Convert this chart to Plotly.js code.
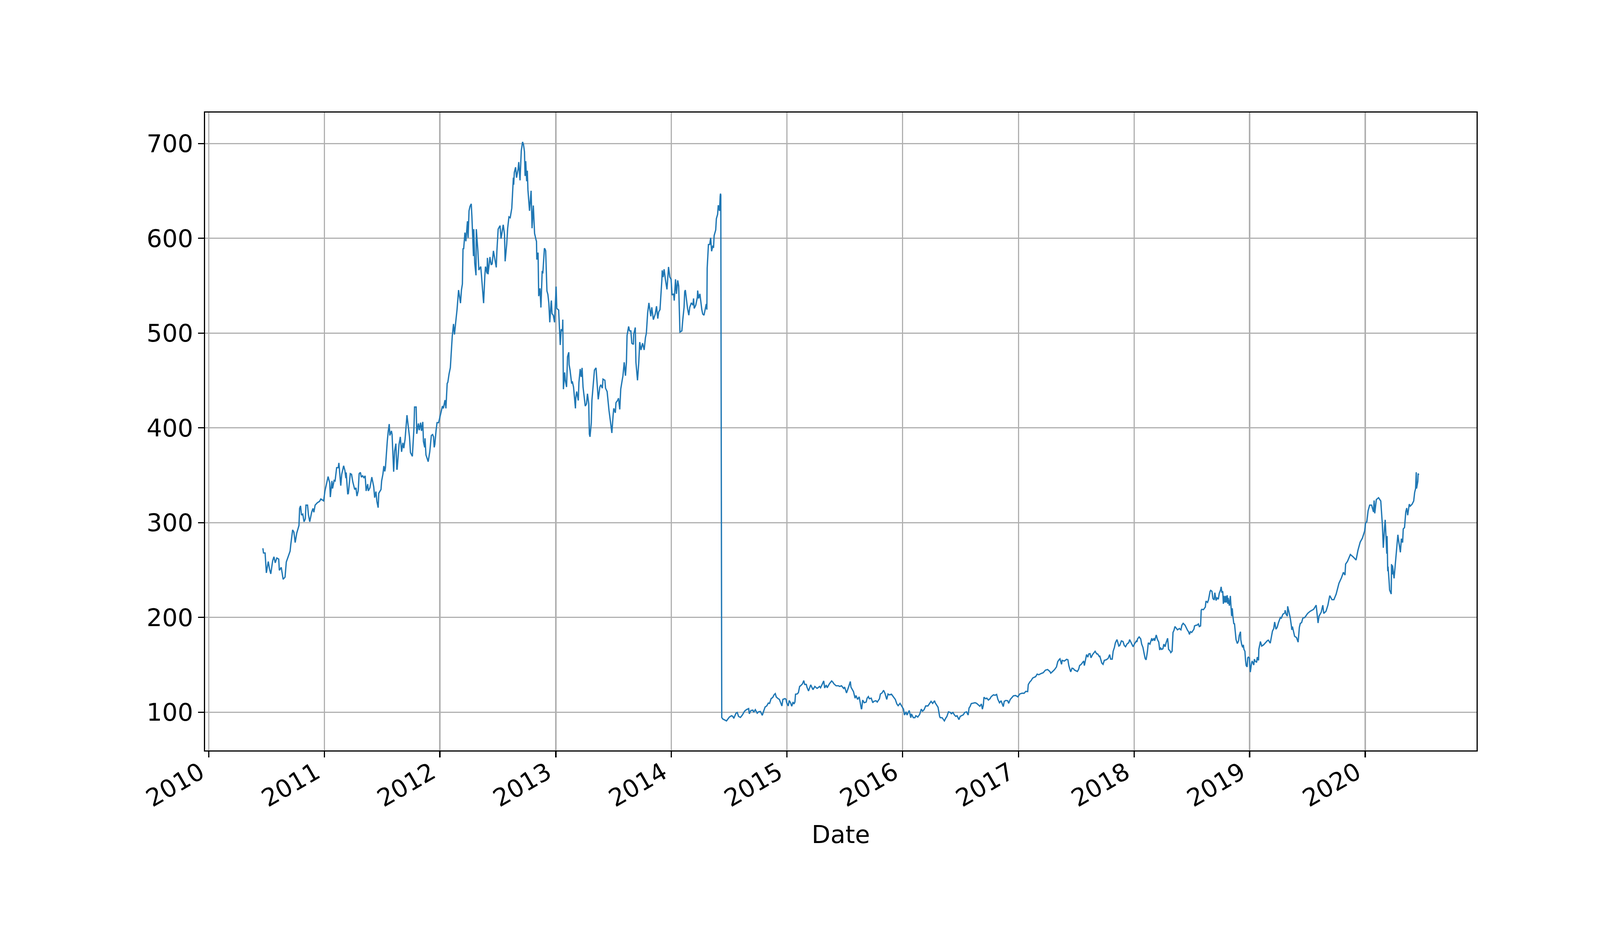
<!DOCTYPE html>
<html>
<head>
<meta charset="utf-8">
<script src="https://cdn.plot.ly/plotly-3.0.1.min.js"></script>
<style>
  html, body { margin: 0; padding: 0; background: #ffffff; }
  #chart { width: 4200px; height: 2400px; }
</style>
</head>
<body>
<div id="chart"></div>
<script>
const datesA = ["2010-06-21","2010-06-23","2010-06-28","2010-07-02","2010-07-08","2010-07-12","2010-07-16","2010-07-22","2010-07-26","2010-07-30","2010-08-04","2010-08-10","2010-08-12","2010-08-18","2010-08-24","2010-08-30","2010-09-03","2010-09-08","2010-09-15","2010-09-17","2010-09-23","2010-09-27","2010-10-01","2010-10-06","2010-10-13","2010-10-15","2010-10-18","2010-10-21","2010-10-25","2010-10-29","2010-11-02","2010-11-04","2010-11-09","2010-11-12","2010-11-16","2010-11-22","2010-11-26","2010-11-29","2010-12-03","2010-12-10","2010-12-17","2010-12-21","2010-12-30","2011-01-03","2011-01-07","2011-01-13","2011-01-18","2011-01-20","2011-01-25","2011-01-27","2011-02-01","2011-02-04","2011-02-09","2011-02-14","2011-02-16","2011-02-22","2011-02-25","2011-03-03","2011-03-07","2011-03-10","2011-03-11","2011-03-16","2011-03-18","2011-03-24","2011-03-28","2011-04-01","2011-04-07","2011-04-11","2011-04-14","2011-04-18","2011-04-21","2011-04-25","2011-04-28","2011-05-02","2011-05-06","2011-05-10","2011-05-13","2011-05-18","2011-05-20","2011-05-25","2011-05-31","2011-06-06","2011-06-09","2011-06-13","2011-06-16","2011-06-20","2011-06-22","2011-06-29","2011-07-01","2011-07-05","2011-07-08","2011-07-11","2011-07-13","2011-07-15","2011-07-19","2011-07-22","2011-07-25","2011-07-27","2011-08-01","2011-08-03","2011-08-08","2011-08-11","2011-08-15","2011-08-18","2011-08-19","2011-08-25","2011-08-29","2011-09-02","2011-09-06","2011-09-09","2011-09-13","2011-09-19","2011-09-23","2011-09-27","2011-09-30","2011-10-06","2011-10-11","2011-10-13","2011-10-18","2011-10-20","2011-10-25","2011-10-28","2011-11-01","2011-11-04","2011-11-08","2011-11-10","2011-11-14","2011-11-15","2011-11-18","2011-11-25","2011-11-30","2011-12-05","2011-12-09","2011-12-12","2011-12-14","2011-12-16","2011-12-20","2011-12-23","2011-12-28","2012-01-04","2012-01-09","2012-01-12","2012-01-17","2012-01-20","2012-01-24","2012-01-26","2012-01-30"];
const closeA = [273,268,268,247,259,251,246,260,264,257.6,262.7,261.6,249.7,252.8,240.2,242.6,258.5,263,270,276.6,292.4,290,279,289,297,315,317.7,308,309,301,304,318.5,318.5,308,301,311,315,311,318.5,321,322.5,325,323,333.5,339,348.6,342,327,344,336,344.6,344,358,358,363,339,351,360,355,347,353,330,331,351.7,351,343,335,336.7,328,333.5,351.7,353,348,349.4,347.5,349.4,333.5,340.7,333.5,336.7,348,338,326.4,332.8,322.5,315.8,331,335,344,351,359.7,354,358,368.4,386.6,396.8,404,392,396.8,393,353.8,375.5,383.4,356.5,356.5,382.6,390.5,374.7,384.2,378.6,388,413.4,402.4,390.5,374,370,399,422,422,393.7,404.7,397.6,405.5,396.8,406.3,385.8,379.4,389,371.5,364.4,374.7,392,393,390.5,379.4,382.6,397.6,405.5,405.5,415,423,420.6,429.3,420.6,447,448,457];

const datesB = ["2012-02-03","2012-02-07","2012-02-09","2012-02-13","2012-02-16","2012-02-21","2012-02-24","2012-02-29","2012-03-06","2012-03-09","2012-03-12","2012-03-14","2012-03-16","2012-03-20","2012-03-23","2012-03-28","2012-03-30","2012-04-02","2012-04-05","2012-04-09","2012-04-11","2012-04-16","2012-04-17","2012-04-20","2012-04-24","2012-04-25","2012-04-30","2012-05-03","2012-05-09","2012-05-11","2012-05-18","2012-05-22","2012-05-24","2012-05-29","2012-05-30","2012-06-01","2012-06-07","2012-06-11","2012-06-14","2012-06-18","2012-06-22","2012-06-27","2012-06-29","2012-07-03","2012-07-09","2012-07-12","2012-07-19","2012-07-23","2012-07-25","2012-07-30","2012-08-02","2012-08-06","2012-08-10","2012-08-15","2012-08-20","2012-08-21","2012-08-23","2012-08-27","2012-08-30","2012-09-04","2012-09-06","2012-09-10","2012-09-14","2012-09-18","2012-09-21","2012-09-24","2012-09-26","2012-09-28","2012-10-01","2012-10-03","2012-10-05","2012-10-09","2012-10-10","2012-10-15","2012-10-18","2012-10-22","2012-10-24","2012-10-26","2012-10-31","2012-11-01","2012-11-02","2012-11-06","2012-11-08","2012-11-12","2012-11-15","2012-11-19","2012-11-21","2012-11-26","2012-11-28","2012-11-30","2012-12-04","2012-12-07","2012-12-10","2012-12-13","2012-12-17","2012-12-18","2012-12-20","2012-12-24","2012-12-28","2013-01-02","2013-01-04","2013-01-10","2013-01-11","2013-01-15","2013-01-18","2013-01-22","2013-01-23"];
const closeB = [463.6,485.7,496.7,509.6,498.5,515,524.3,545.4,531.6,545.4,551.8,589.5,588.6,606,596.9,618,600.6,629,633.6,636.4,623.5,581.3,609.7,573.9,561,609.7,586.8,566.5,570.2,562,531.6,561,570.2,562.9,579.4,562,580.3,572,573,586.8,578.5,569.3,586.8,609.7,613.4,599.6,614.3,604.2,575.7,594,610.7,622.6,621.7,631.8,664,656.6,669.5,675,664,673.2,680.5,661.2,692.5,701.7,698.9,691.5,665.8,681.4,660.3,671.3,651.1,636.4,629,650.2,610.7,634.6,615.3,605.1,597.8,596.9,577.6,584.9,539,547.2,527,565.6,562.9,589.5,588.6,586.8,544.5,540.8,531.6,511.4,531.6,534.4,520.6,518.8,511.4,549.1,526.1,524.3,516.9,487.5,504,502.2,514.2];

const datesC = ["2013-01-25","2013-01-29","2013-01-31","2013-02-04","2013-02-07","2013-02-11","2013-02-12","2013-02-15","2013-02-20","2013-02-22","2013-02-26","2013-03-04","2013-03-05","2013-03-08","2013-03-13","2013-03-15","2013-03-19","2013-03-22","2013-03-25","2013-03-28","2013-04-01","2013-04-04","2013-04-08","2013-04-11","2013-04-15","2013-04-17","2013-04-19","2013-04-23","2013-04-25","2013-04-29","2013-05-03","2013-05-08","2013-05-10","2013-05-15","2013-05-20","2013-05-23","2013-05-28","2013-05-30","2013-06-05","2013-06-07","2013-06-12","2013-06-14","2013-06-18","2013-06-24","2013-06-27","2013-07-01","2013-07-03","2013-07-08","2013-07-10","2013-07-15","2013-07-18","2013-07-22","2013-07-25","2013-07-29","2013-08-01","2013-08-05","2013-08-07","2013-08-09","2013-08-12","2013-08-14","2013-08-19","2013-08-22","2013-08-26","2013-08-29","2013-09-03","2013-09-04","2013-09-09","2013-09-11","2013-09-16","2013-09-20","2013-09-23","2013-09-27","2013-10-02","2013-10-07","2013-10-11","2013-10-14","2013-10-18","2013-10-22","2013-10-28","2013-10-31","2013-11-05","2013-11-11","2013-11-15","2013-11-19","2013-11-22","2013-11-26","2013-12-02","2013-12-03","2013-12-06","2013-12-09","2013-12-13","2013-12-18","2013-12-23","2013-12-27","2013-12-31","2014-01-03","2014-01-08","2014-01-10","2014-01-14","2014-01-17","2014-01-21","2014-01-24","2014-01-28","2014-02-03","2014-02-06","2014-02-10","2014-02-12","2014-02-14","2014-02-21","2014-02-25","2014-02-28","2014-03-05","2014-03-10","2014-03-12","2014-03-14","2014-03-19","2014-03-24","2014-03-25","2014-03-28","2014-04-01","2014-04-07","2014-04-10","2014-04-14","2014-04-21","2014-04-23","2014-04-24","2014-04-28","2014-05-02","2014-05-05","2014-05-08","2014-05-12","2014-05-14","2014-05-16","2014-05-21","2014-05-23","2014-05-27","2014-05-29","2014-06-02","2014-06-04","2014-06-05","2014-06-06"];
const closeC = [440.8,458.5,450.2,443.1,475.1,479.8,466.8,460.9,446.7,449.1,443.1,420.6,431.3,438.4,428.9,447.9,462.1,453.8,463.3,443.1,430.1,423,425.4,436,425.4,393.4,390.6,405.3,428.9,443.1,460.9,463.3,455,430.1,443.1,445.5,441.9,451.4,450.2,441.9,438.4,431.3,418.3,402.9,394.6,413.5,420.6,415.9,426.6,428.9,431.3,419.5,440.8,449.1,455,469.2,463.3,455,469.2,497.6,507,502.3,502.3,489.3,488.1,498.8,505.9,469.2,450.2,469.2,490.5,482.2,489.3,482.2,495.2,500,521.3,531.9,517.7,527.2,514.2,520.1,528.4,515.3,522.4,524.8,556.8,566.2,559.1,567.4,556.8,546.1,569.8,559.1,556.8,540.2,541.4,534.3,556.8,541.4,555.6,549.7,501.1,502.3,514.2,527.2,543.7,545.4,526,518.9,527.2,531.9,529.5,536.6,526,529.5,537.8,544.9,536.6,541.4,524.8,520.1,518.9,530.7,524.8,568.6,593.5,593.5,600.6,586.4,592.3,589.9,602.9,608.9,620.7,625.4,634.9,629,644.4,647.2,645.6];

const datesD = ["2014-06-09","2014-06-12","2014-06-16","2014-06-19","2014-06-24","2014-06-27","2014-07-03","2014-07-10","2014-07-14","2014-07-17","2014-07-24","2014-07-28","2014-08-01","2014-08-07","2014-08-13","2014-08-20","2014-08-26","2014-09-02","2014-09-04","2014-09-09","2014-09-15","2014-09-18","2014-09-23","2014-09-29","2014-10-03","2014-10-09","2014-10-15","2014-10-20","2014-10-24","2014-10-29","2014-11-03","2014-11-07","2014-11-12","2014-11-17","2014-11-21","2014-11-25","2014-11-28","2014-12-03","2014-12-08","2014-12-12","2014-12-16","2014-12-19","2014-12-26","2014-12-29","2014-12-31","2015-01-05","2015-01-08","2015-01-12","2015-01-16","2015-01-20","2015-01-23","2015-01-26","2015-01-28","2015-02-02","2015-02-06","2015-02-10","2015-02-13","2015-02-19","2015-02-23","2015-02-26","2015-03-03","2015-03-05","2015-03-10","2015-03-17","2015-03-20","2015-03-24","2015-03-30","2015-04-06","2015-04-14","2015-04-17","2015-04-21","2015-04-27","2015-04-30","2015-05-05","2015-05-08","2015-05-15","2015-05-22","2015-05-26","2015-05-29","2015-06-05","2015-06-12","2015-06-17","2015-06-22","2015-06-29","2015-07-02","2015-07-08","2015-07-13","2015-07-20","2015-07-22","2015-07-30","2015-08-04","2015-08-07","2015-08-12","2015-08-17","2015-08-24","2015-08-25","2015-08-28","2015-09-02","2015-09-08","2015-09-11","2015-09-15","2015-09-18","2015-09-24","2015-09-29","2015-10-02","2015-10-09","2015-10-13","2015-10-20","2015-10-23","2015-10-28","2015-11-02","2015-11-06","2015-11-12","2015-11-16","2015-11-20","2015-11-27","2015-12-03","2015-12-09","2015-12-14","2015-12-18","2015-12-24","2015-12-30","2016-01-04","2016-01-07","2016-01-12","2016-01-15","2016-01-22","2016-01-27","2016-01-29","2016-02-04","2016-02-09","2016-02-12","2016-02-18","2016-02-24","2016-02-29","2016-03-04","2016-03-09","2016-03-14","2016-03-21","2016-03-28","2016-03-31","2016-04-05","2016-04-11","2016-04-13","2016-04-18","2016-04-22","2016-04-27","2016-04-29","2016-05-05","2016-05-09","2016-05-12","2016-05-16","2016-05-20","2016-05-25","2016-05-31","2016-06-03","2016-06-08","2016-06-13","2016-06-17","2016-06-21","2016-06-27","2016-07-01","2016-07-06","2016-07-11","2016-07-15","2016-07-21","2016-07-26","2016-07-29","2016-08-01","2016-08-05","2016-08-12","2016-08-17","2016-08-22","2016-08-26","2016-09-01","2016-09-06","2016-09-09","2016-09-12","2016-09-14","2016-09-19","2016-09-23","2016-09-28","2016-10-03","2016-10-07","2016-10-14","2016-10-19","2016-10-24","2016-10-28","2016-11-02","2016-11-07","2016-11-14","2016-11-17","2016-11-22","2016-11-28","2016-12-01","2016-12-06","2016-12-12","2016-12-16","2016-12-23","2016-12-30"];
const closeD = [94.5,92.9,92.2,91.8,90.8,92.2,94.9,96.3,95.6,93.5,99,99.7,95.6,94.5,97,101.1,102.7,103.8,98.4,101.8,102.2,100,102.7,99,100.4,100.8,96.7,101.8,105.5,106.6,109.6,109.3,114.4,115.5,118.3,119.6,116.2,114.6,113.5,110,106.6,113.5,114.4,113.5,110,106.6,112.4,110,106.3,110.7,108.7,110.7,119,119.2,120.6,127.2,127.9,130,133.4,129.3,129.3,126.5,122.4,128.9,126.5,123.8,127.2,125.1,127.2,125.8,128.6,133,125.6,128.6,125.8,130,133,131.6,130,127.9,127.9,127.2,127.9,125.1,126.5,120.3,125.1,132.4,126.5,121.7,114.8,117.6,113.5,116.2,103.2,103.8,112.8,110,110.7,114.8,116.5,114.2,114.8,110,111.4,112.1,110.7,114.2,119.2,120.3,123.1,120.3,113.5,119.2,118.3,119,116.2,113.5,108.7,106.9,109.3,105.9,103.2,97,100.4,97,101.8,94.2,98.1,94.2,94.2,96.3,94.9,97.7,103.2,101.1,102.7,106.6,106.6,110,111.4,109.3,112.1,110,107.3,105.2,95.6,94.2,94.2,92.2,90.8,93.5,95.6,100.4,99.7,98.4,99.7,97,95.6,96.3,92.2,95.6,96.3,97.3,99.7,100.4,97,104.5,105.9,109.1,109.6,110,109.3,108,106.3,108.7,103.2,107.3,115.8,114.2,114.8,112.8,114.2,116.5,118.3,117.9,118.7,113.5,110,112.1,105.9,111.4,112.4,112.1,109.3,113.5,115.5,117.3,117.6,116.2];

const datesE = ["2017-01-05","2017-01-12","2017-01-19","2017-01-24","2017-01-30","2017-02-01","2017-02-06","2017-02-10","2017-02-15","2017-02-21","2017-02-24","2017-03-01","2017-03-06","2017-03-14","2017-03-20","2017-03-27","2017-04-03","2017-04-10","2017-04-13","2017-04-19","2017-04-25","2017-05-01","2017-05-05","2017-05-09","2017-05-12","2017-05-17","2017-05-19","2017-05-26","2017-06-02","2017-06-06","2017-06-09","2017-06-12","2017-06-15","2017-06-19","2017-06-23","2017-06-27","2017-06-30","2017-07-06","2017-07-10","2017-07-13","2017-07-18","2017-07-21","2017-07-26","2017-07-28","2017-08-02","2017-08-04","2017-08-08","2017-08-11","2017-08-15","2017-08-18","2017-08-23","2017-08-28","2017-08-31","2017-09-05","2017-09-08","2017-09-13","2017-09-15","2017-09-21","2017-09-25","2017-09-29","2017-10-05","2017-10-11","2017-10-16","2017-10-19","2017-10-24","2017-10-27","2017-10-31","2017-11-03","2017-11-08","2017-11-14","2017-11-17","2017-11-22","2017-11-27","2017-12-01","2017-12-05","2017-12-11","2017-12-15","2017-12-18","2017-12-22","2017-12-26","2017-12-29","2018-01-03","2018-01-08","2018-01-10","2018-01-12","2018-01-17","2018-01-22","2018-01-25","2018-01-29","2018-02-02","2018-02-05","2018-02-08","2018-02-12","2018-02-15","2018-02-20","2018-02-26","2018-02-28","2018-03-05","2018-03-07","2018-03-12","2018-03-16","2018-03-20","2018-03-23","2018-03-26","2018-03-29","2018-04-02","2018-04-05","2018-04-09","2018-04-12","2018-04-17","2018-04-20","2018-04-24","2018-04-27","2018-05-01","2018-05-04","2018-05-07","2018-05-10","2018-05-15","2018-05-18","2018-05-24","2018-05-29","2018-06-01","2018-06-05","2018-06-11","2018-06-15","2018-06-19","2018-06-22","2018-06-25","2018-06-28","2018-07-02","2018-07-09","2018-07-11","2018-07-16","2018-07-19","2018-07-23","2018-07-26","2018-07-30","2018-08-01","2018-08-03","2018-08-08","2018-08-14","2018-08-16","2018-08-21","2018-08-24","2018-08-29","2018-08-31","2018-09-04","2018-09-07","2018-09-11","2018-09-13","2018-09-17","2018-09-20","2018-09-24","2018-09-27","2018-10-01","2018-10-03","2018-10-05","2018-10-08","2018-10-10","2018-10-12","2018-10-15","2018-10-17","2018-10-19","2018-10-22","2018-10-24","2018-10-25","2018-10-29","2018-11-01","2018-11-05","2018-11-07","2018-11-09","2018-11-12","2018-11-14","2018-11-16","2018-11-19","2018-11-23","2018-11-27","2018-11-29","2018-12-03","2018-12-04","2018-12-07","2018-12-10","2018-12-12","2018-12-14","2018-12-17","2018-12-19","2018-12-21","2018-12-24","2018-12-26","2018-12-28","2018-12-31"];
const closeE = [119.2,120,120,122,121.7,129.2,132,133.4,136.1,136.8,137.5,140.2,139.5,140.9,141.6,144.4,145,143,141.2,143,145,147.8,153.3,155.3,156.3,150.5,154.7,154,155.8,155.3,149.2,145.7,142.6,146.4,146.1,144.4,143.9,143,145.3,149.2,150.5,151.9,154,149.2,157.4,160.8,158.1,161.5,161.8,157.4,160.8,162.9,164.3,161.5,161.5,158.8,159.1,151.9,150.5,154.7,155.3,156.7,160.8,156,156,164.3,168.4,173.2,176.6,169.8,170.5,175.3,174.6,170.5,169.1,172.5,173.2,176.6,173.9,171.1,169.1,172.5,175,174.2,177.3,179.4,177.3,171.8,168.4,161.5,156.7,155.3,163.6,173.2,171.8,178,175.3,178,175.3,181.5,176.6,173.9,165.7,167.7,166.3,167,171.8,169.1,173.2,178,166.3,165,162.9,164.3,184.2,186.3,190.4,188.3,186.9,188.3,186.9,191.8,193.8,191.8,189,186.3,184.9,182.1,184.9,184.2,187.6,191.1,191.8,191.8,193.1,190.4,191.1,207.6,208.5,208.2,211,217.2,215.8,218.5,227.5,228.6,227.5,219.9,218.5,226.1,217.9,220.6,219.2,225.4,228.9,232.3,226.8,227.5,214.4,222.7,215.8,222.7,215.8,223.4,214.4,220.6,212.4,222.7,201.4,209.6,201.4,193.1,193.8,186.9,176.6,172.5,175.3,180.8,184.9,176.6,171.1,168.4,171.1,166.3,164.3,154.7,149.2,147.8,157.4,158.1,157.4];

const datesF = ["2019-01-03","2019-01-07","2019-01-09","2019-01-14","2019-01-16","2019-01-18","2019-01-23","2019-01-25","2019-01-29","2019-01-30","2019-02-04","2019-02-08","2019-02-14","2019-02-20","2019-02-26","2019-03-01","2019-03-07","2019-03-11","2019-03-14","2019-03-18","2019-03-21","2019-03-25","2019-03-29","2019-04-02","2019-04-08","2019-04-11","2019-04-16","2019-04-22","2019-04-23","2019-04-26","2019-04-30","2019-05-01","2019-05-03","2019-05-07","2019-05-09","2019-05-13","2019-05-14","2019-05-16","2019-05-20","2019-05-23","2019-05-29","2019-06-03","2019-06-07","2019-06-10","2019-06-14","2019-06-18","2019-06-24","2019-07-03","2019-07-11","2019-07-22","2019-07-30","2019-08-05","2019-08-08","2019-08-15","2019-08-20","2019-08-23","2019-08-30","2019-09-05","2019-09-11","2019-09-18","2019-09-24","2019-10-01","2019-10-10","2019-10-18","2019-10-24","2019-10-29","2019-10-31","2019-11-06","2019-11-15","2019-11-25","2019-12-03","2019-12-09","2019-12-16","2019-12-23","2019-12-30","2020-01-02","2020-01-06","2020-01-10","2020-01-15","2020-01-21","2020-01-27","2020-01-29","2020-01-31","2020-02-05","2020-02-12","2020-02-19","2020-02-24","2020-02-27","2020-03-02","2020-03-04","2020-03-09","2020-03-10","2020-03-12","2020-03-13","2020-03-16","2020-03-18","2020-03-23","2020-03-24","2020-03-26","2020-03-27","2020-04-01","2020-04-06","2020-04-09","2020-04-13","2020-04-16","2020-04-21","2020-04-24","2020-04-28","2020-04-30","2020-05-04","2020-05-08","2020-05-11","2020-05-14","2020-05-19","2020-05-22","2020-05-28","2020-06-02","2020-06-05","2020-06-08","2020-06-10","2020-06-11","2020-06-15","2020-06-16","2020-06-18"];
const closeF = [142.3,151.9,154,149.8,156,154,152.6,158.1,154.7,166.3,174.6,169.8,171.1,173.2,175.5,176,172.8,180.1,185.6,188.3,195.2,187.6,189.7,194.5,200,199.3,203.4,204.8,207.6,203.4,201.4,211.7,208.9,202.7,200,190.4,186.9,190.4,183.5,180.1,178.7,173.9,189.7,193.8,194.5,199.3,199.9,204.2,206.5,208.6,212.9,194.1,201.3,205.6,212.9,204.2,206.5,212.9,223,218.7,218.7,224.5,236.1,241.9,247.6,244.7,256.3,259.2,266.4,263.5,260.6,270.9,279.4,283.7,291,299.7,301,312.6,318.5,318.5,311.3,323.4,309.8,324.3,326.3,322.9,298.2,273.5,294.8,303,267.3,285.9,248.8,253.6,239.8,228.8,224.7,256.3,245.3,255,241.2,259.8,268.7,287.2,279.7,268.7,283.1,279,293.4,294.8,311.3,315.4,307.8,319.5,317.4,319.5,322.9,331.9,336,353.2,336,343.5,351.8,350.4];

const yTickValues = [100, 200, 300, 400, 500, 600, 700];
const xTickLabels = ["2010","2011","2012","2013","2014","2015","2016","2017","2018","2019","2020"];
const xLabel = "Date";

// ---- Build trace ----
const dates = [].concat(datesA, datesB, datesC, datesD, datesE, datesF);
const closes = [].concat(closeA, closeB, closeC, closeD, closeE, closeF);
const xTickValues = xTickLabels.map(y => y + "-01-01");

const FONT = "DejaVu Sans, Liberation Sans, sans-serif";
const PX = 300 / 72; // matplotlib points -> pixels at 300 dpi

const trace = {
  x: dates,
  y: closes,
  type: "scatter",
  mode: "lines",
  line: { color: "#1f77b4", width: 0.8 * PX },
  hoverinfo: "skip"
};

const axisCommon = {
  showline: true,
  linecolor: "#000000",
  linewidth: 0.8 * PX,
  mirror: true,
  ticks: "outside",
  ticklen: 3.5 * PX,
  tickwidth: 0.8 * PX,
  tickcolor: "#000000",
  showgrid: true,
  gridcolor: "#b0b0b0",
  gridwidth: 0.8 * PX,
  zeroline: false,
  tickfont: { family: FONT, size: 15 * PX, color: "#000000" }
};

const layout = {
  width: 4200,
  height: 2400,
  margin: { l: 525, r: 420, t: 288, b: 480, pad: 0 },
  paper_bgcolor: "#ffffff",
  plot_bgcolor: "#ffffff",
  showlegend: false,
  font: { family: FONT, size: 15 * PX, color: "#000000" },
  xaxis: Object.assign({}, axisCommon, {
    type: "date",
    range: ["2009-12-20 12:00", "2020-12-17 12:00"],
    tickmode: "array",
    tickvals: xTickValues,
    ticktext: xTickLabels,
    tickangle: -30,
    ticklabelshift: -22,
    ticklabelstandoff: -22,
    title: { text: xLabel, font: { family: FONT, size: 15 * PX, color: "#000000" }, standoff: 36 }
  }),
  yaxis: Object.assign({}, axisCommon, {
    range: [59.7, 732.7],
    tickmode: "array",
    tickvals: yTickValues,
    ticktext: yTickValues.map(String)
  })
};

Plotly.newPlot("chart", [trace], layout, { staticPlot: true, displayModeBar: false });
</script>
</body>
</html>
